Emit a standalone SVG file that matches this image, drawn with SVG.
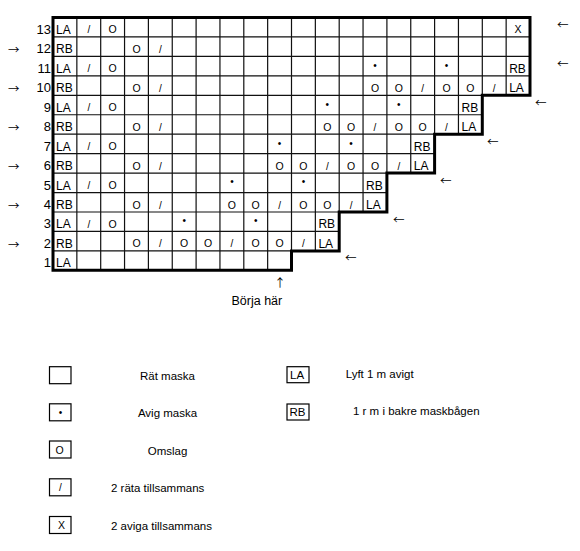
<svg xmlns="http://www.w3.org/2000/svg" width="580" height="551" viewBox="0 0 580 551">
<style>
text{font-family:"Liberation Sans",Arial,sans-serif;fill:#000}
.c{font-size:12px}
.n{font-size:13px;text-anchor:end}
.o{font-size:10.5px;text-anchor:middle}
.s{font-size:10px;text-anchor:middle}
.d{font-size:10px;text-anchor:middle}
.a{font-family:"Noto Sans CJK SC","DejaVu Sans",sans-serif;font-size:11.5px}
.lg{font-size:11.5px}
.m{text-anchor:middle}
.grid{fill:none;stroke:#111;stroke-width:1.2}
.thick{fill:none;stroke:#000;stroke-width:3;stroke-linejoin:miter}
.box{fill:#fff;stroke:#000;stroke-width:1.2}
</style>
<rect width="580" height="551" fill="#fff"/>
<g id="chart">
<path class="grid" d="M53,36.95H530M53,56.4H530M53,75.85H530M53,95.3H530M53,114.75H482.3M53,134.2H482.3M53,153.65H434.6M53,173.1H434.6M53,192.55H386.9M53,212H386.9M53,231.45H339.2M53,250.9H339.2
M76.85,17.5V270.35M100.7,17.5V270.35M124.55,17.5V270.35M148.4,17.5V270.35M172.25,17.5V270.35M196.1,17.5V270.35M219.95,17.5V270.35M243.8,17.5V270.35M267.65,17.5V270.35M291.5,17.5V270.35
M315.35,17.5V250.9M339.2,17.5V250.9M363.05,17.5V212M386.9,17.5V212M410.75,17.5V173.1M434.6,17.5V173.1M458.45,17.5V134.2M482.3,17.5V134.2M506.15,17.5V95.3"/>
<path class="thick" d="M53,17.5H530V95.3H482.3V134.2H434.6V173.1H386.9V212H339.2V250.9H291.5V270.35H53Z"/>
</g>
<g id="row-numbers">
<text class="n" x="51" y="33.95">13</text>
<text class="n" x="51" y="53.4">12</text>
<text class="n" x="51" y="72.85">11</text>
<text class="n" x="51" y="92.3">10</text>
<text class="n" x="51" y="111.75">9</text>
<text class="n" x="51" y="131.2">8</text>
<text class="n" x="51" y="150.65">7</text>
<text class="n" x="51" y="170.1">6</text>
<text class="n" x="51" y="189.55">5</text>
<text class="n" x="51" y="209">4</text>
<text class="n" x="51" y="228.45">3</text>
<text class="n" x="51" y="247.9">2</text>
<text class="n" x="51" y="266.8">1</text>
</g>
<g id="row13">
<text class="c" x="56" y="33.95">LA</text>
<text class="s" x="88.8" y="33.45">/</text>
<text class="o" x="112.6" y="33.45">O</text>
<text class="o" x="518.1" y="33.45">X</text>
</g>
<g id="row12">
<text class="c" x="56" y="53.4">RB</text>
<text class="o" x="136.5" y="52.9">O</text>
<text class="s" x="160.3" y="52.9">/</text>
</g>
<g id="row11">
<text class="c" x="56" y="72.85">LA</text>
<text class="s" x="88.8" y="72.35">/</text>
<text class="o" x="112.6" y="72.35">O</text>
<text class="d" x="375" y="68.75">•</text>
<text class="d" x="446.5" y="68.75">•</text>
<text class="c" x="509.2" y="72.85">RB</text>
</g>
<g id="row10">
<text class="c" x="56" y="92.3">RB</text>
<text class="o" x="136.5" y="91.8">O</text>
<text class="s" x="160.3" y="91.8">/</text>
<text class="o" x="375" y="91.8">O</text>
<text class="o" x="398.8" y="91.8">O</text>
<text class="s" x="422.7" y="91.8">/</text>
<text class="o" x="446.5" y="91.8">O</text>
<text class="o" x="470.4" y="91.8">O</text>
<text class="s" x="494.2" y="91.8">/</text>
<text class="c" x="509.2" y="92.3">LA</text>
</g>
<g id="row9">
<text class="c" x="56" y="111.75">LA</text>
<text class="s" x="88.8" y="111.25">/</text>
<text class="o" x="112.6" y="111.25">O</text>
<text class="d" x="327.3" y="107.65">•</text>
<text class="d" x="398.8" y="107.65">•</text>
<text class="c" x="461.5" y="111.75">RB</text>
</g>
<g id="row8">
<text class="c" x="56" y="131.2">RB</text>
<text class="o" x="136.5" y="130.7">O</text>
<text class="s" x="160.3" y="130.7">/</text>
<text class="o" x="327.3" y="130.7">O</text>
<text class="o" x="351.1" y="130.7">O</text>
<text class="s" x="375" y="130.7">/</text>
<text class="o" x="398.8" y="130.7">O</text>
<text class="o" x="422.7" y="130.7">O</text>
<text class="s" x="446.5" y="130.7">/</text>
<text class="c" x="461.5" y="131.2">LA</text>
</g>
<g id="row7">
<text class="c" x="56" y="150.65">LA</text>
<text class="s" x="88.8" y="150.15">/</text>
<text class="o" x="112.6" y="150.15">O</text>
<text class="d" x="279.6" y="146.55">•</text>
<text class="d" x="351.1" y="146.55">•</text>
<text class="c" x="413.8" y="150.65">RB</text>
</g>
<g id="row6">
<text class="c" x="56" y="170.1">RB</text>
<text class="o" x="136.5" y="169.6">O</text>
<text class="s" x="160.3" y="169.6">/</text>
<text class="o" x="279.6" y="169.6">O</text>
<text class="o" x="303.4" y="169.6">O</text>
<text class="s" x="327.3" y="169.6">/</text>
<text class="o" x="351.1" y="169.6">O</text>
<text class="o" x="375" y="169.6">O</text>
<text class="s" x="398.8" y="169.6">/</text>
<text class="c" x="413.8" y="170.1">LA</text>
</g>
<g id="row5">
<text class="c" x="56" y="189.55">LA</text>
<text class="s" x="88.8" y="189.05">/</text>
<text class="o" x="112.6" y="189.05">O</text>
<text class="d" x="231.9" y="185.45">•</text>
<text class="d" x="303.4" y="185.45">•</text>
<text class="c" x="366.1" y="189.55">RB</text>
</g>
<g id="row4">
<text class="c" x="56" y="209">RB</text>
<text class="o" x="136.5" y="208.5">O</text>
<text class="s" x="160.3" y="208.5">/</text>
<text class="o" x="231.9" y="208.5">O</text>
<text class="o" x="255.7" y="208.5">O</text>
<text class="s" x="279.6" y="208.5">/</text>
<text class="o" x="303.4" y="208.5">O</text>
<text class="o" x="327.3" y="208.5">O</text>
<text class="s" x="351.1" y="208.5">/</text>
<text class="c" x="366.1" y="209">LA</text>
</g>
<g id="row3">
<text class="c" x="56" y="228.45">LA</text>
<text class="s" x="88.8" y="227.95">/</text>
<text class="o" x="112.6" y="227.95">O</text>
<text class="d" x="184.2" y="224.35">•</text>
<text class="d" x="255.7" y="224.35">•</text>
<text class="c" x="318.4" y="228.45">RB</text>
</g>
<g id="row2">
<text class="c" x="56" y="247.9">RB</text>
<text class="o" x="136.5" y="247.4">O</text>
<text class="s" x="160.3" y="247.4">/</text>
<text class="o" x="184.2" y="247.4">O</text>
<text class="o" x="208" y="247.4">O</text>
<text class="s" x="231.9" y="247.4">/</text>
<text class="o" x="255.7" y="247.4">O</text>
<text class="o" x="279.6" y="247.4">O</text>
<text class="s" x="303.4" y="247.4">/</text>
<text class="c" x="318.4" y="247.9">LA</text>
</g>
<g id="row1">
<text class="c" x="56" y="266.8">LA</text>
</g>
<g id="arrows">
<text class="a" x="8" y="54">→</text>
<text class="a" x="8" y="92.9">→</text>
<text class="a" x="8" y="131.8">→</text>
<text class="a" x="8" y="170.7">→</text>
<text class="a" x="8" y="209.6">→</text>
<text class="a" x="8" y="248.5">→</text>
<text class="a" x="557" y="29">←</text>
<text class="a" x="557" y="67.9">←</text>
<text class="a" x="535" y="106.8">←</text>
<text class="a" x="487" y="145.7">←</text>
<text class="a" x="440" y="184.6">←</text>
<text class="a" x="393" y="223.5">←</text>
<text class="a" x="345" y="262.4">←</text>
<text class="a m" x="280" y="287">↑</text>
<text class="lg" x="231.5" y="305" style="font-size:12.5px">Börja här</text>
</g>
<g id="legend-knit">
<rect class="box" x="49.5" y="366.7" width="21.5" height="17"/>
<text class="lg m" x="167.5" y="380">Rät maska</text>
</g>
<g id="legend-purl">
<rect class="box" x="49.5" y="403.8" width="21.5" height="17"/>
<text class="d" x="60.5" y="415.9">•</text>
<text class="lg m" x="167.5" y="416.7">Avig maska</text>
</g>
<g id="legend-yo">
<rect class="box" x="49.5" y="441" width="21.5" height="17"/>
<text class="o" x="59.5" y="454">O</text>
<text class="lg m" x="167.5" y="455">Omslag</text>
</g>
<g id="legend-k2tog">
<rect class="box" x="49.5" y="478.8" width="21.5" height="17"/>
<text class="s" x="60.3" y="490.7">/</text>
<text class="lg" x="111" y="491.5">2 räta tillsammans</text>
</g>
<g id="legend-p2tog">
<rect class="box" x="49.5" y="516.5" width="21.5" height="17"/>
<text class="o" x="61.5" y="529.3">X</text>
<text class="lg" x="111" y="530">2 aviga tillsammans</text>
</g>
<g id="legend-la">
<rect class="box" x="287" y="366.7" width="22" height="16"/>
<text class="lg" x="290" y="379.3">LA</text>
<text class="lg" x="345.7" y="378">Lyft 1 m avigt</text>
</g>
<g id="legend-rb">
<rect class="box" x="287" y="404" width="22" height="16"/>
<text class="lg" x="289.5" y="416">RB</text>
<text class="lg" x="353" y="415">1 r m i bakre maskbågen</text>
</g>
</svg>
